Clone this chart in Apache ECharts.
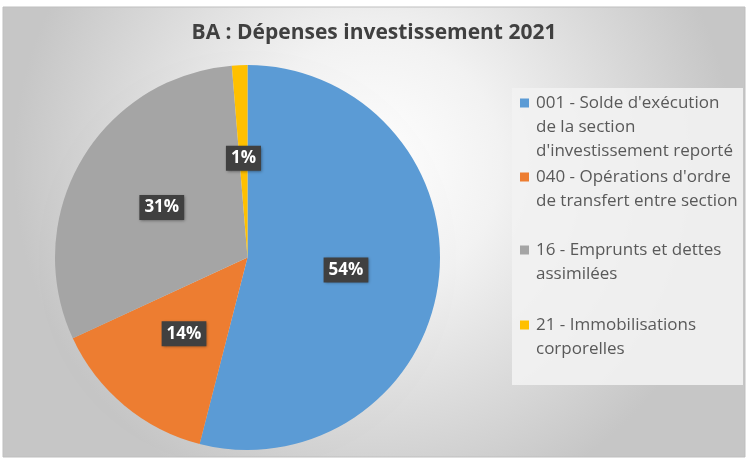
<!DOCTYPE html>
<html>
<head>
<meta charset="utf-8">
<script src="https://cdn.jsdelivr.net/npm/echarts@6/dist/echarts.min.js"></script>
<style>html,body{margin:0;padding:0;background:#fff}#c{width:748px;height:459px}</style>
</head>
<body>
<div id="c"></div>
<script>
const titleText = 'BA : Dépenses investissement 2021';
const categories = [
  "001 - Solde d'exécution\nde la section\nd'investissement reporté",
  "040 - Opérations d'ordre\nde transfert entre section",
  "16 - Emprunts et dettes\nassimilées",
  "21 - Immobilisations\ncorporelles"
];
const values = [54.0, 14.1, 30.6, 1.3];
const colors = ['#5B9BD5', '#ED7D31', '#A5A5A5', '#FFC000'];
const legendFirstLineY = [103, 177, 250, 325];

const FONT = 'Open Sans';
const LH = 24;
const LFS = 17;

const chart = echarts.init(document.getElementById('c'), null, {renderer: 'canvas'});

const legends = categories.map((name, i) => {
  const n = name.split('\n').length;
  return {
    data: [name],
    orient: 'vertical',
    left: 520,
    top: legendFirstLineY[i] - (2 * n - 1) * LH / 2,
    padding: 0,
    itemWidth: 9,
    itemHeight: 9,
    itemGap: 0,
    icon: 'rect',
    selectedMode: false,
    formatter: nm => nm.split('\n').map(l => '{t|' + l + '}').join('\n'),
    textStyle: {
      fontFamily: FONT,
      fontSize: LFS,
      color: '#595959',
      lineHeight: LH,
      padding: [(n - 1) * LH, 0, 0, 2],
      rich: {
        t: {fontFamily: FONT, fontSize: LFS, color: '#595959', lineHeight: LH}
      }
    }
  };
});

chart.setOption({
  animation: false,
  color: colors,
  graphic: [
    {
      type: 'rect', z: -10, silent: true,
      shape: {x: 3, y: 7, width: 742, height: 450},
      style: {
        fill: {
          type: 'radial', x: 0.5, y: 0.35, r: 0.8,
          colorStops: [
            {offset: 0, color: '#ffffff'},
            {offset: 0.35, color: '#f2f2f2'},
            {offset: 1, color: '#c6c6c6'}
          ]
        },
        stroke: '#bfbfbf', lineWidth: 1
      }
    },
    {
      type: 'rect', z: -9, silent: true,
      shape: {x: 512, y: 88, width: 231, height: 297},
      style: {fill: 'rgba(242,242,242,0.9)'}
    }
  ],
  title: {
    text: titleText,
    left: 'center',
    top: 18,
    textStyle: {fontFamily: FONT, fontSize: 21, fontWeight: 'bold', color: '#404040'}
  },
  legend: legends,
  series: [
    {
      type: 'pie',
      silent: true,
      center: [247.5, 257.5],
      radius: 192.5,
      z: 1,
      startAngle: 90,
      clockwise: true,
      label: {show: false},
      labelLine: {show: false},
      itemStyle: {color: 'rgba(0,0,0,0.01)', shadowBlur: 14, shadowColor: 'rgba(0,0,0,0.35)', shadowOffsetY: 2},
      data: [{value: 1, name: '_shadow'}]
    },
    {
      type: 'pie',
      center: [247.5, 257.5],
      radius: 192.5,
      z: 2,
      startAngle: 90,
      clockwise: true,
      avoidLabelOverlap: false,
      labelLine: {show: false},
      label: {
        show: true,
        position: 'inside',
        formatter: p => Math.round(p.percent) + '%',
        fontFamily: FONT,
        fontSize: 17,
        fontWeight: 'bold',
        color: '#ffffff',
        backgroundColor: '#404040',
        padding: [5, 5, 3, 5],
        shadowColor: 'rgba(0,0,0,0.45)',
        shadowBlur: 3,
        shadowOffsetX: 1,
        shadowOffsetY: 1
      },
      itemStyle: {borderWidth: 0},
      emphasis: {disabled: true},
      data: categories.map((c, i) => ({name: c, value: values[i], itemStyle: {color: colors[i]}}))
    }
  ]
});
</script>
</body>
</html>
